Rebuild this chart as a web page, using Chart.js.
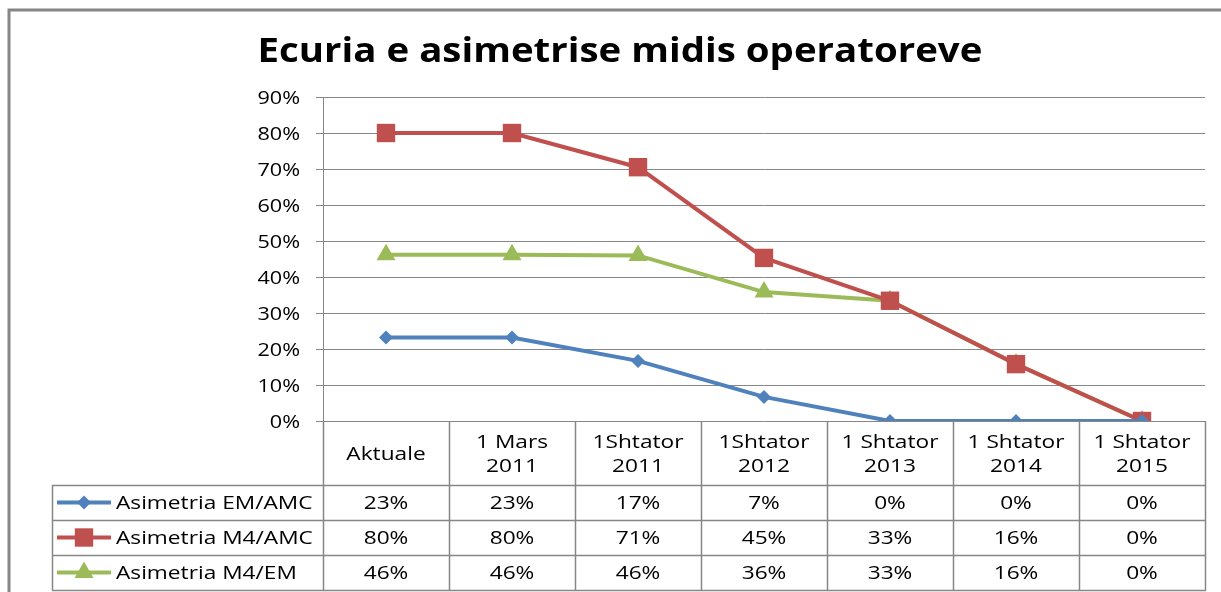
<!DOCTYPE html>
<html>
<head>
<meta charset="utf-8">
<script src="https://cdn.jsdelivr.net/npm/chart.js@4.4.1/dist/chart.umd.min.js"></script>
<style>
html,body{margin:0;padding:0;background:#fff;}
#wrap{position:relative;width:1221px;height:592px;}
</style>
</head>
<body>
<div id="wrap"><canvas id="c"></canvas></div>
<script>
const chartTitle = "Ecuria e asimetrise midis operatoreve";
const categories = ["Aktuale", ["1 Mars","2011"], ["1Shtator","2011"], ["1Shtator","2012"], ["1 Shtator","2013"], ["1 Shtator","2014"], ["1 Shtator","2015"]];
const seriesNames = ["Asimetria EM/AMC", "Asimetria M4/AMC", "Asimetria M4/EM"];
const asimEmAmc = [23.2, 23.2, 16.7, 6.7, 0, 0, 0];
const asimM4Amc = [80, 80, 70.5, 45.3, 33.4, 15.8, 0];
const asimM4Em  = [46.2, 46.2, 46.0, 35.8, 33.4, 15.8, 0];
const yTicks = [0, 10, 20, 30, 40, 50, 60, 70, 80, 90];

const FONT = "'Open Sans', 'DejaVu Sans', sans-serif";
const GRID = '#868686';
const colors = ['#4F81BD', '#C0504D', '#9BBB59'];
const styles = [
  {pointStyle:'rectRot', radius:7},
  {pointStyle:'rect', radius:13},
  {pointStyle:'triangle', radius:11}
];
const allSeries = [asimEmAmc, asimM4Amc, asimM4Em];
const SX = 1.26;

function stretchText(ctx, text, x, y, align, sx) {
  ctx.save();
  ctx.translate(x, y);
  ctx.scale(sx, 1);
  ctx.textAlign = align;
  ctx.textBaseline = 'alphabetic';
  ctx.fillText(text, 0, 0);
  ctx.restore();
}

const tablePlugin = {
  id: 'tablePlugin',
  beforeDraw(chart) {
    const ctx = chart.ctx;
    ctx.save();
    ctx.fillStyle = '#fff';
    ctx.fillRect(0, 0, chart.width, chart.height);
    ctx.strokeStyle = GRID;
    ctx.lineWidth = 3;
    ctx.beginPath();
    ctx.moveTo(9, chart.height + 2);
    ctx.lineTo(9, 10);
    ctx.lineTo(chart.width + 2, 10);
    ctx.stroke();
    ctx.fillStyle = '#000';
    ctx.font = "bold 34px " + FONT;
    stretchText(ctx, chartTitle, 620, 62, 'center', 1.13);
    ctx.restore();
  },
  afterDraw(chart) {
    const ctx = chart.ctx;
    const x = chart.scales.x;
    const y = chart.scales.y;
    const area = chart.chartArea;
    const n = categories.length;
    const band = (area.right - area.left) / n;
    const top = area.bottom;
    const headBottom = top + 64;
    const rowH = 35;
    const rows = allSeries.length;
    const tableBottom = headBottom + rowH * rows;
    const legLeft = 52;
    ctx.save();
    // y tick labels
    ctx.fillStyle = '#000';
    ctx.font = "18px " + FONT;
    yTicks.forEach(v => {
      stretchText(ctx, v + '%', 300, y.getPixelForValue(v) + 6.5, 'right', 1.2);
    });

    ctx.strokeStyle = GRID;
    ctx.lineWidth = 1.5;
    ctx.beginPath();
    for (let i = 0; i <= n; i++) {
      const bx = Math.round(area.left + band * i) + 0.5;
      ctx.moveTo(bx, top);
      ctx.lineTo(bx, tableBottom);
    }
    ctx.moveTo(legLeft + 0.5, headBottom);
    ctx.lineTo(legLeft + 0.5, tableBottom);
    for (let r = 0; r <= rows; r++) {
      const hy = Math.round(headBottom + rowH * r) + 0.5;
      ctx.moveTo(legLeft, hy);
      ctx.lineTo(area.right + 1, hy);
    }
    ctx.stroke();

    ctx.fillStyle = '#000';
    categories.forEach((c, i) => {
      const cx = x.getPixelForValue(i);
      const lines = Array.isArray(c) ? c : [c];
      const lh = 24;
      const y0 = (top + headBottom) / 2 - (lines.length - 1) * lh / 2;
      lines.forEach((l, k) => stretchText(ctx, l, cx, y0 + k * lh + 6.5, 'center', SX));
    });
    allSeries.forEach((vals, r) => {
      const cy = headBottom + rowH * r + rowH / 2;
      ctx.fillStyle = '#000';
      vals.forEach((v, i) => {
        stretchText(ctx, Math.round(v) + '%', x.getPixelForValue(i), cy + 6.5, 'center', SX);
      });
      ctx.strokeStyle = colors[r];
      ctx.lineWidth = 4;
      ctx.beginPath();
      ctx.moveTo(57, cy);
      ctx.lineTo(111, cy);
      ctx.stroke();
      ctx.fillStyle = colors[r];
      Chart.helpers.drawPoint(ctx, {pointStyle: styles[r].pointStyle, radius: styles[r].radius, rotation: 0, borderWidth: 0}, 84, cy);
      ctx.fillStyle = '#000';
      stretchText(ctx, seriesNames[r], 116, cy + 6.5, 'left', SX);
    });
    ctx.restore();
  }
};

new Chart(document.getElementById('c'), {
  type: 'line',
  data: {
    labels: categories,
    datasets: allSeries.map((vals, i) => ({
      label: seriesNames[i],
      data: vals,
      borderColor: colors[i],
      backgroundColor: colors[i],
      borderWidth: 4,
      pointStyle: styles[i].pointStyle,
      pointRadius: styles[i].radius,
      pointHoverRadius: styles[i].radius,
      pointBorderWidth: 0,
      tension: 0,
      fill: false
    }))
  },
  options: {
    responsive: true,
    maintainAspectRatio: false,
    animation: false,
    events: [],
    layout: { padding: { left: 0, right: 16, top: 97, bottom: 171 } },
    plugins: {
      legend: { display: false },
      title: { display: false },
      tooltip: { enabled: false }
    },
    scales: {
      x: {
        type: 'category',
        offset: true,
        ticks: { display: false },
        grid: { display: false },
        border: { display: false },
        afterFit(s) { s.height = 0; }
      },
      y: {
        min: 0,
        max: 90,
        afterBuildTicks(s) { s.ticks = yTicks.map(v => ({ value: v })); },
        ticks: {
          padding: 16,
          color: 'rgba(0,0,0,0)',
          font: { family: FONT, size: 17 },
          callback: v => v + '%'
        },
        grid: { color: GRID, lineWidth: 1, tickLength: 7, drawTicks: true },
        border: { color: GRID, width: 1 },
        afterFit(s) { s.width = 323; }
      }
    }
  },
  plugins: [tablePlugin]
});
</script>
</body>
</html>
